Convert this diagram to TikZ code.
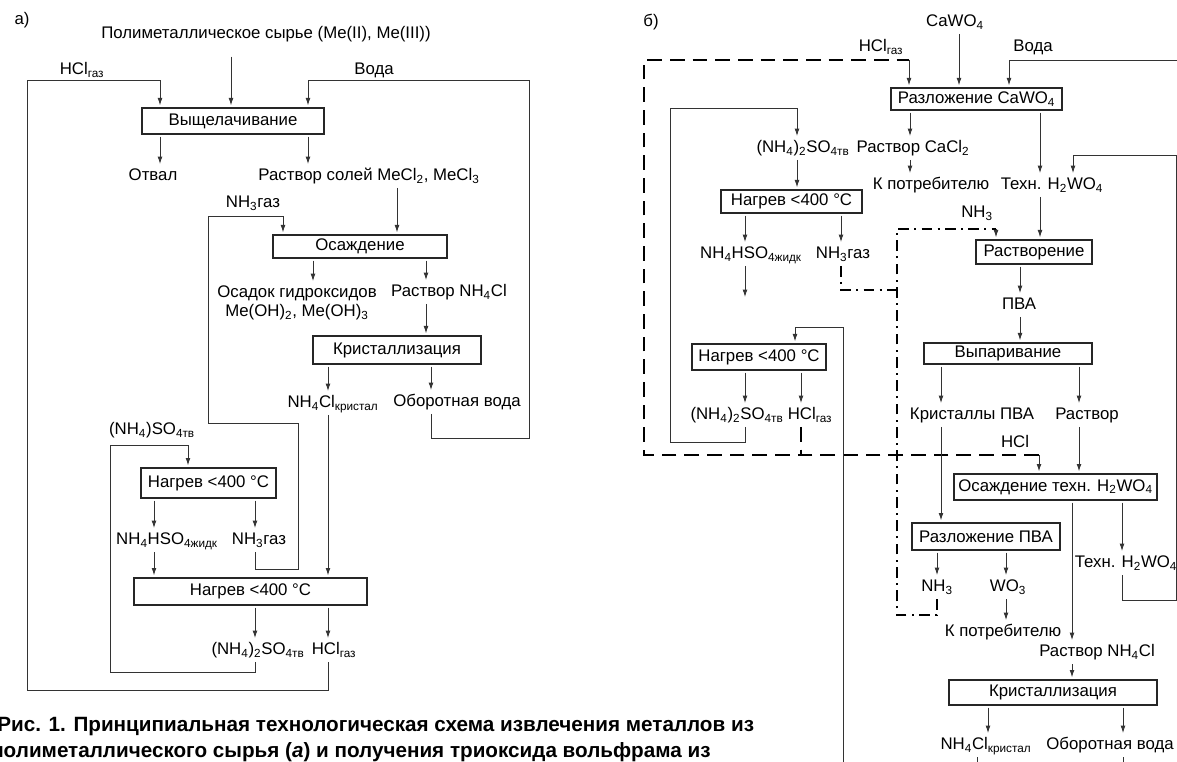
\documentclass[tikz,border=0pt]{standalone}
\usepackage{fontspec}
\setmainfont{Liberation Sans}
\usetikzlibrary{arrows.meta,positioning,calc}

\newcommand{\lo}[1]{\textsubscript{#1}}

\begin{document}
\begin{tikzpicture}[
    x=0.75pt, y=-0.75pt,
    font=\fontsize{12.6}{14.5}\selectfont,
    box/.style={
        draw=black!85, line width=0.9pt, fill=white,
        inner sep=1pt, outer sep=2pt
    },
    lbl/.style={
        inner sep=1.5pt, outer sep=2pt,
        text height=9pt, text depth=2pt
    },
    arr/.style={
        -{Latex[length=5.5pt,width=3.6pt]}, line width=0.6pt, draw=black!80
    },
    link/.style={
        line width=0.6pt, draw=black!80
    },
    hclpath/.style={
        line width=1.6pt, dash pattern=on 11pt off 6pt
    },
    nhpath/.style={
        line width=1.4pt, dash pattern=on 8pt off 4pt on 1.5pt off 4pt
    },
    capt/.style={
        anchor=west, inner sep=0pt,
        font=\bfseries\fontsize{15.5}{18}\selectfont
    }
]
\useasboundingbox (0,0) rectangle (1177,762);

% ===== panel a: metals from polymetallic raw material =====
\node[lbl] (tagA)  at (22,20)  {а)};
\node[lbl] (syrje) at (266,34) {Полиметаллическое сырье (Me(II), Me(III))};
\node[lbl] (hclA)  at (82,70)  {HCl\lo{газ}};
\node[lbl] (vodaA) at (374,70) {Вода};

\node[box, minimum width=136.5pt, minimum height=19.5pt] (vysh) at (233,121) {Выщелачивание};
\node[lbl] (otval) at (153,176) {Отвал};
\node[lbl] (rsol)  at (369,176) {Раствор солей MeCl\lo{2}, MeCl\lo{3}};
\node[lbl] (nh3A)  at (253,203) {NH\lo{3}газ};

\node[box, minimum width=130.5pt, minimum height=17.25pt] (osazh) at (360,246.5) {Осаждение};
\node[lbl, align=center, text height=, text depth=] (osadok) at (297,303) {Осадок гидроксидов\\Me(OH)\lo{2}, Me(OH)\lo{3}};
\node[lbl] (rnh4)  at (449,292) {Раствор NH\lo{4}Cl};

\node[box, minimum width=126pt, minimum height=21pt] (krist) at (397,350) {Кристаллизация};
\node[lbl] (nh4cl)  at (333,403) {NH\lo{4}Cl\lo{кристал}};
\node[lbl] (oborot) at (457,402) {Оборотная вода};

\node[lbl] (so4A) at (152,430) {(NH\lo{4})SO\lo{4тв}};
\node[box, minimum width=101.25pt, minimum height=22.5pt] (nagA1) at (208.5,483) {Нагрев <400 °C};
\node[lbl] (hso4A) at (167,540) {NH\lo{4}HSO\lo{4жидк}};
\node[lbl] (nh3gA) at (259,540) {NH\lo{3}газ};

\node[box, minimum width=174.75pt, minimum height=20.25pt] (nagA2) at (250.5,591.5) {Нагрев <400 °C};
\node[lbl] (so4A2) at (258,650) {(NH\lo{4})\lo{2}SO\lo{4тв}};
\node[lbl] (hclA2) at (334,650) {HCl\lo{газ}};

% lanes and corners
\coordinate (aHclTop)  at (160,80);
\coordinate (aHclBot)  at (27,690);
\coordinate (aVodaTop) at (308,80);
\coordinate (aVodaBot) at (529,438);
\coordinate (aSyr)     at (231,0);
\coordinate (aSol)     at (397,0);
\coordinate (aNhTop)   at (283,216);
\coordinate (aNhMid)   at (208,423);
\coordinate (aNhBot)   at (298,569);
\coordinate (aOsad)    at (313,0);
\coordinate (aRnh)     at (426,0);
\coordinate (aKr)      at (328,0);
\coordinate (aOb)      at (431,0);
\coordinate (aSoTop)   at (188,445);
\coordinate (aSoBot)   at (110,672);
\coordinate (aHso)     at (154,0);
\coordinate (aNhg)     at (255,0);

\draw[arr, shorten <=8pt] (syrje.south -| aSyr) -- (vysh.north -| aSyr);
\draw[arr] (hclA2.south -| aKr) |- (aHclBot) |- (aHclTop) -- (vysh.north -| aHclTop);
\draw[arr] (oborot.south -| aOb) |- (aVodaBot) |- (aVodaTop) -- (vysh.north -| aVodaTop);
\draw[arr] (vysh.south -| aHclTop) -- (otval.north -| aHclTop);
\draw[arr] (vysh.south -| aVodaTop) -- (rsol.north -| aVodaTop);
\draw[arr] (rsol.south -| aSol) -- (osazh.north -| aSol);
\draw[arr] (nh3gA.south -| aNhg) |- (aNhBot) |- (aNhMid) |- (aNhTop) -- (osazh.north -| aNhTop);
\draw[arr] (osazh.south -| aOsad) -- (osadok.north -| aOsad);
\draw[arr] (osazh.south -| aRnh) -- (rnh4.north -| aRnh);
\draw[arr] (rnh4.south -| aRnh) -- (krist.north -| aRnh);
\draw[arr] (krist.south -| aKr) -- (nh4cl.north -| aKr);
\draw[arr] (krist.south -| aOb) -- (oborot.north -| aOb);
\draw[arr] (nh4cl.south -| aKr) -- (nagA2.north -| aKr);
\draw[arr] (so4A2.south -| aNhg) |- (aSoBot) |- (aSoTop) -- (nagA1.north -| aSoTop);
\draw[arr] (nagA1.south -| aHso) -- (hso4A.north -| aHso);
\draw[arr] (nagA1.south -| aNhg) -- (nh3gA.north -| aNhg);
\draw[arr] (hso4A.south -| aHso) -- (nagA2.north -| aHso);
\draw[arr] (nagA2.south -| aNhg) -- (so4A2.north -| aNhg);
\draw[arr] (nagA2.south -| aKr) -- (hclA2.north -| aKr);

% ===== panel b: tungsten trioxide from CaWO4 =====
\node[lbl] (tagB)  at (651,22)  {б)};
\node[lbl] (cawo)  at (955,22)  {CaWO\lo{4}};
\node[lbl] (hclB)  at (881,47)  {HCl\lo{газ}};
\node[lbl] (vodaB) at (1033,47) {Вода};

\node[box, minimum width=128.25pt, minimum height=16.5pt] (razl) at (976.5,99) {Разложение CaWO\lo{4}};
\node[lbl] (so4B1)  at (803,148)  {(NH\lo{4})\lo{2}SO\lo{4тв}};
\node[lbl] (cacl)   at (913,148)  {Раствор CaCl\lo{2}};
\node[lbl] (kpotr1) at (931,185)  {К потребителю};
\node[lbl] (tehn1)  at (1052,185) {Техн. H\lo{2}WO\lo{4}};

\node[box, minimum width=105.75pt, minimum height=17.25pt] (nagB1) at (791.5,201.5) {Нагрев <400 °C};
\node[lbl] (nh3B1) at (977,213) {NH\lo{3}};
\node[box, minimum width=87pt, minimum height=18pt] (rastv) at (1034,252) {Растворение};
\node[lbl] (hso4B) at (751,254) {NH\lo{4}HSO\lo{4жидк}};
\node[lbl] (nh3gB) at (843,254) {NH\lo{3}газ};
\node[lbl] (pva)   at (1019,305) {ПВА};

\node[box, minimum width=126pt, minimum height=15.75pt] (vypar) at (1008,353.5) {Выпаривание};
\node[box, minimum width=100.5pt, minimum height=19.5pt] (nagB2) at (759,357) {Нагрев <400 °C};
\node[lbl] (so4B2)   at (737,415)  {(NH\lo{4})\lo{2}SO\lo{4тв}};
\node[lbl] (hclB2)   at (810,415)  {HCl\lo{газ}};
\node[lbl] (kpva)    at (972,415)  {Кристаллы ПВА};
\node[lbl] (rastvor) at (1087,415) {Раствор};
\node[lbl] (hclB3)   at (1015,443) {HCl};

\node[box, minimum width=152.25pt, minimum height=19.5pt] (osB) at (1055.5,487) {Осаждение техн. H\lo{2}WO\lo{4}};
\node[box, minimum width=111pt, minimum height=20.25pt] (razlPVA) at (986,536.5) {Разложение ПВА};
\node[lbl] (tehn2)  at (1126,563) {Техн. H\lo{2}WO\lo{4}};
\node[lbl] (nh3B2)  at (937,587)  {NH\lo{3}};
\node[lbl] (wo3)    at (1008,587) {WO\lo{3}};
\node[lbl] (kpotr2) at (1003,632) {К потребителю};
\node[lbl] (rnh4B)  at (1097,652) {Раствор NH\lo{4}Cl};

\node[box, minimum width=156pt, minimum height=18.75pt] (kristB) at (1053,692.5) {Кристаллизация};
\node[lbl] (nh4clB) at (986,745)  {NH\lo{4}Cl\lo{кристал}};
\node[lbl] (oborB)  at (1110,745) {Оборотная вода};

% lanes and corners
\coordinate (bCa)       at (959,0);
\coordinate (bVodaEdge) at (1177,60);
\coordinate (bVoda)     at (1009,60);
\coordinate (bHclTop)   at (909,60);
\coordinate (bHclBL)    at (644,455);
\coordinate (bHclBR)    at (1039,455);
\coordinate (bHclX)     at (801,0);
\coordinate (bCacl)     at (910,0);
\coordinate (bTeh)      at (1040,0);
\coordinate (bTehTop)   at (1073,155);
\coordinate (bTehEdge)  at (1176,600);
\coordinate (bSoTop)    at (797,108);
\coordinate (bSoBot)    at (670,442);
\coordinate (bSoX)      at (745,0);
\coordinate (bHsoEnd)   at (745,297);
\coordinate (bNhX)      at (841,0);
\coordinate (bNhJoin)   at (897,290);
\coordinate (bNhTop)    at (996,229);
\coordinate (bNhBot)    at (897,615);
\coordinate (bPva)      at (1020,0);
\coordinate (bKpva)     at (941,0);
\coordinate (bRas)      at (1079,0);
\coordinate (bOsR)      at (1072,0);
\coordinate (bTeh2)     at (1122,0);
\coordinate (bWo)       at (1006,0);
\coordinate (bKrBot)    at (843,762);
\coordinate (bKrTop)    at (795,327);
\coordinate (bKrB)      at (988,0);
\coordinate (bObB)      at (1123,0);
\coordinate (bNh4Edge)  at (977,762);
\coordinate (bObEdge)   at (1123,762);

\draw[arr] (cawo.south -| bCa) -- (razl.north -| bCa);
\draw[arr] (bVodaEdge) -- (bVoda) -- (razl.north -| bVoda);
\draw[hclpath] (hclB2.south -| bHclX) -- (bHclX |- bHclBL);
\draw[hclpath] (bHclBR) -- (bHclBL) |- (bHclTop);
\draw[arr] (bHclTop) -- (razl.north -| bHclTop);
\draw[arr] (bHclBR) -- (osB.north -| bHclBR);
\draw[arr] (razl.south -| bCacl) -- (cacl.north -| bCacl);
\draw[arr] (cacl.south -| bCacl) -- (kpotr1.north -| bCacl);
\draw[arr] (razl.south -| bTeh) -- (tehn1.north -| bTeh);
\draw[arr] (tehn1.south -| bTeh) -- (rastv.north -| bTeh);
\draw[arr] (tehn2.south -| bTeh2) |- (bTehEdge) |- (bTehTop) -- (tehn1.north -| bTehTop);
\draw[arr] (so4B2.south -| bSoX) |- (bSoBot) |- (bSoTop) -- (so4B1.north -| bSoTop);
\draw[arr] (so4B1.south -| bSoTop) -- (nagB1.north -| bSoTop);
\draw[arr] (nagB1.south -| bSoX) -- (hso4B.north -| bSoX);
\draw[arr] (nagB1.south -| bNhX) -- (nh3gB.north -| bNhX);
\draw[arr] (hso4B.south -| bSoX) -- (bHsoEnd);
\draw[nhpath] (nh3gB.south -| bNhX) |- (bNhJoin);
\draw[nhpath] (nh3B2.south) |- (bNhBot) |- (bNhTop);
\draw[arr] (bNhTop) -- (rastv.north -| bNhTop);
\draw[arr] (rastv.south -| bPva) -- (pva.north -| bPva);
\draw[arr] (pva.south -| bPva) -- (vypar.north -| bPva);
\draw[arr] (vypar.south -| bKpva) -- (kpva.north -| bKpva);
\draw[arr] (vypar.south -| bRas) -- (rastvor.north -| bRas);
\draw[arr] (rastvor.south -| bRas) -- (osB.north -| bRas);
\draw[arr] (kpva.south -| bKpva) -- (razlPVA.north -| bKpva);
\draw[arr] (bKrBot) |- (bKrTop) -- (nagB2.north -| bKrTop);
\draw[arr] (nagB2.south -| bSoX) -- (so4B2.north -| bSoX);
\draw[arr] (nagB2.south -| bHclX) -- (hclB2.north -| bHclX);
\draw[arr] (osB.south -| bOsR) -- (rnh4B.north -| bOsR);
\draw[arr] (osB.south -| bTeh2) -- (tehn2.north -| bTeh2);
\draw[arr] (razlPVA.south -| nh3B2) -- (nh3B2.north);
\draw[arr] (razlPVA.south -| bWo) -- (wo3.north -| bWo);
\draw[arr] (wo3.south -| bWo) -- (kpotr2.north -| bWo);
\draw[arr] (rnh4B.south -| bOsR) -- (kristB.north -| bOsR);
\draw[arr] (kristB.south -| bKrB) -- (nh4clB.north -| bKrB);
\draw[arr] (kristB.south -| bObB) -- (oborB.north -| bObB);
\draw[link] (nh4clB.south -| bNh4Edge) -- (bNh4Edge);
\draw[link] (oborB.south -| bObEdge) -- (bObEdge);

% ===== caption (cut by the page edge) =====
\node[capt] (capt1) at (-3,727) {Рис. 1. Принципиальная технологическая схема извлечения металлов из};
\node[capt] (capt2) at (-9,752) {полиметаллического сырья (\textit{а}) и получения триоксида вольфрама из};

\end{tikzpicture}
\end{document}
